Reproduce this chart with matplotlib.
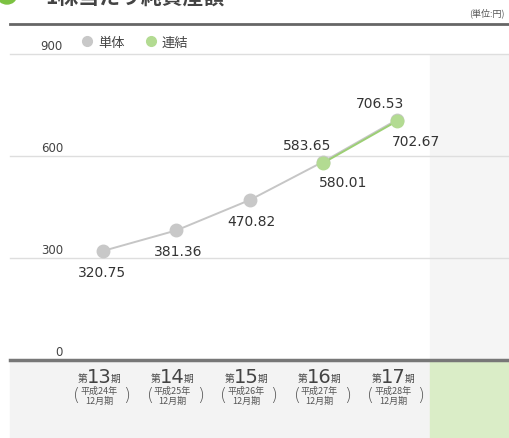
import matplotlib.pyplot as plt
from matplotlib.patches import Rectangle
from matplotlib.lines import Line2D
import numpy as np

plt.rcParams['font.family'] = ['Noto Sans CJK JP', 'DejaVu Sans']

# data
periods = ['13', '14', '15', '16', '17']
years = ['平成24年', '平成25年', '平成26年', '平成27年', '平成28年']
single = [320.75, 381.36, 470.82, 583.65, 706.53]
consol = [np.nan, np.nan, np.nan, 580.01, 702.67]
yticks = [0, 300, 600, 900]

W, H = 510, 439
fig = plt.figure(figsize=(W / 100, H / 100), dpi=100)
ax = fig.add_axes([0, 0, 1, 1])
ax.patch.set_visible(False)
ax.axis('off')

# pixel mapping: x index -> 103 + 73.5*i , value -> 361 - 0.34*v
ax.set_xlim(-103 / 73.5, (W - 103) / 73.5)
ax.set_ylim((361 - H) / 0.34, 361 / 0.34)


def fx(x):
    return x / W


def fy(y):
    return 1 - y / H


# backgrounds
fig.patches.append(Rectangle((fx(10), 0), fx(430) - fx(10), fy(362), transform=fig.transFigure,
                             color='#f3f3f3', zorder=-2))
fig.patches.append(Rectangle((fx(430), 0), 1 - fx(430), fy(362), transform=fig.transFigure,
                             color='#daedc7', zorder=-2))
fig.patches.append(Rectangle((fx(430), fy(361)), 1 - fx(430), fy(56) - fy(361), transform=fig.transFigure,
                             color='#f5f5f5', zorder=-2))

# top dark line
fig.add_artist(Line2D([fx(10), 1], [fy(25), fy(25)], color='#666666', lw=2))

# title (cut off at the top)
fig.patches.append(plt.Circle((fx(7), fy(-3)), 8 / H, transform=fig.transFigure, color='#7cc242'))
fig.text(fx(45), fy(-2), '1株当たり純資産額', fontsize=15, color='#444444', va='center', ha='left',
         fontweight='bold')
fig.text(fx(505), fy(13), '(単位:円)', fontsize=6.5, color='#555555', ha='right', va='center')

# gridlines
for v in yticks[1:]:
    ax.axhline(v, xmin=fx(10), xmax=1, color='#dedede', lw=1, zorder=1)
ax.axhline(0, xmin=fx(10), xmax=1, color='#777777', lw=2.5, zorder=2)
for v in yticks:
    ax.annotate(str(v), xy=(fx(63), v), xycoords=('axes fraction', 'data'), xytext=(0, 6),
                textcoords='offset points', ha='right', va='center', fontsize=8.5, color='#444444',
                family='DejaVu Sans')

x = np.arange(len(periods))
ax.plot(x, single, color='#c6c6c6', lw=1.4, marker='o', ms=9, mfc='#c8c8c8', mec='#c8c8c8', zorder=3)
ax.plot(x, consol, color='#9ccf74', lw=1.4, marker='o', ms=9, mfc='#b3db92', mec='#b3db92', zorder=4)

# value labels
above = [False, False, False, True, True]
for i, v in enumerate(single):
    if above[i]:
        off = (-12, 12)
    else:
        off = (-1 if i == 0 else 1, -15)
    ax.annotate(f'{v:.2f}', (x[i], v), xytext=off, textcoords='offset points', ha='center',
                va='center', fontsize=10, color='#333333', family='DejaVu Sans')
for i, v in enumerate(consol):
    if not np.isnan(v):
        ax.annotate(f'{v:.2f}', (x[i], v), xytext=(14, -14), textcoords='offset points', ha='center',
                    va='center', fontsize=10, color='#333333', family='DejaVu Sans')

# x labels
for i, p in enumerate(periods):
    ax.annotate(p, (x[i], 0), xytext=(-3, -12), textcoords='offset points', ha='center', va='center',
                fontsize=14, color='#444444', family='DejaVu Sans')
    ax.annotate('第', (x[i], 0), xytext=(-15, -13), textcoords='offset points', ha='center', va='center',
                fontsize=7, color='#444444')
    ax.annotate('期', (x[i], 0), xytext=(9, -13), textcoords='offset points', ha='center', va='center',
                fontsize=7, color='#444444')
    ax.annotate(years[i], (x[i], 0), xytext=(-3, -22), textcoords='offset points', ha='center',
                va='center', fontsize=6.5, color='#555555')
    ax.annotate('12月期', (x[i], 0), xytext=(-3, -29), textcoords='offset points', ha='center',
                va='center', fontsize=6.5, color='#555555')
    ax.annotate('(', (x[i], 0), xytext=(-19, -25), textcoords='offset points', ha='center',
                va='center', fontsize=13, color='#555555', family='DejaVu Sans', fontweight='light')
    ax.annotate(')', (x[i], 0), xytext=(17, -25), textcoords='offset points', ha='center',
                va='center', fontsize=13, color='#555555', family='DejaVu Sans', fontweight='light')

# legend
handles = [Line2D([], [], ls='none', marker='o', ms=7, mfc='#c8c8c8', mec='#c8c8c8', label='単体'),
           Line2D([], [], ls='none', marker='o', ms=7, mfc='#b3db92', mec='#b3db92', label='連結')]
ax.legend(handles=handles, loc='center left', bbox_to_anchor=(fx(82), fy(43)), ncol=2, frameon=False,
          fontsize=9.5, handlelength=0.8, handletextpad=0.4, columnspacing=1.6, labelcolor='#444444',
          borderaxespad=0, borderpad=0)

fig.savefig('out.png', dpi=100)
